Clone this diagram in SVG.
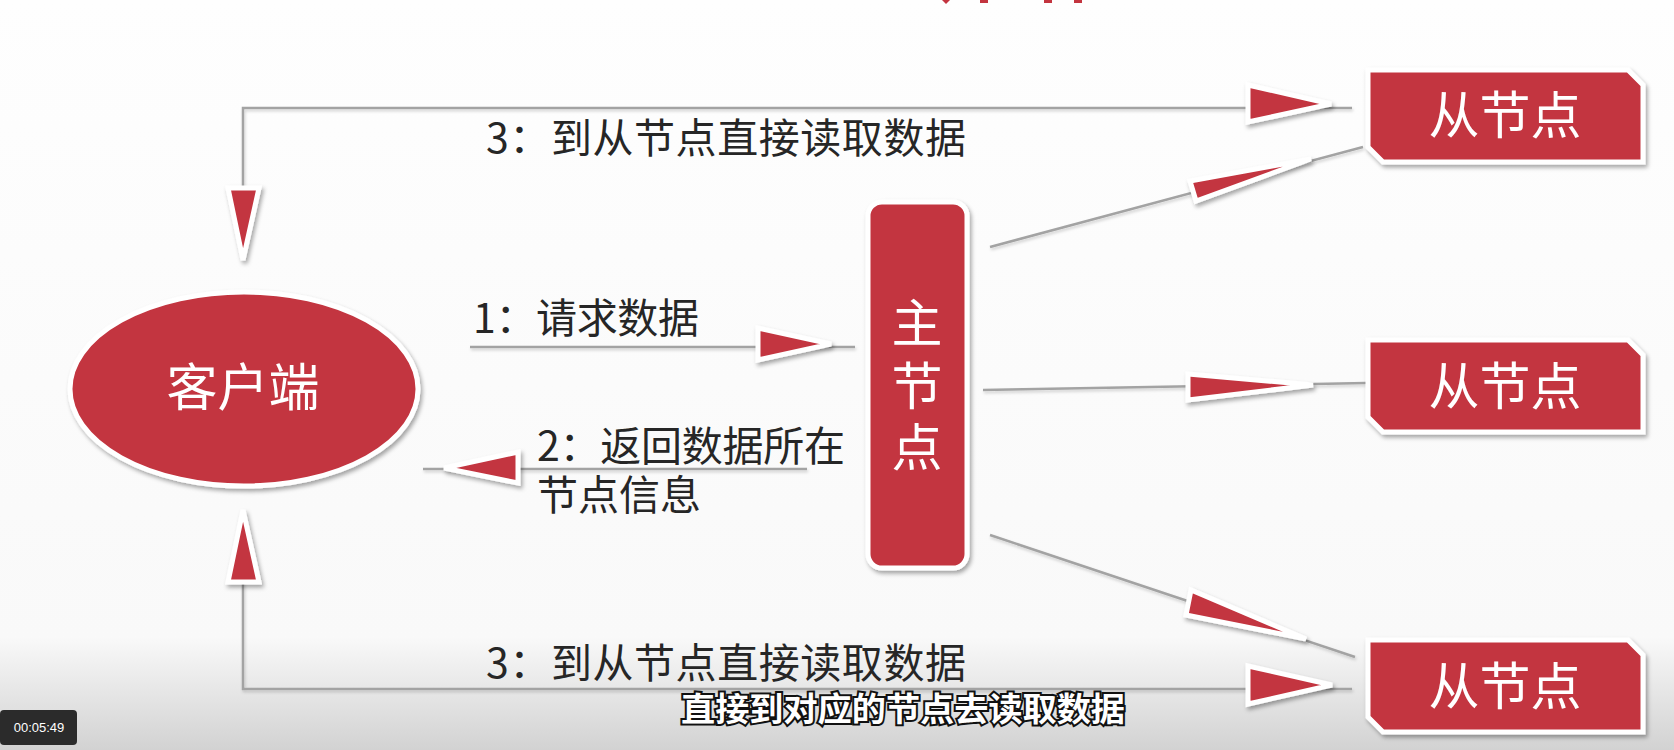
<svg xmlns="http://www.w3.org/2000/svg" width="1674" height="750" viewBox="0 0 1674 750">
  <defs>
    <linearGradient id="bg" x1="0" y1="0" x2="0" y2="1">
      <stop offset="0" stop-color="#fefefe"/>
      <stop offset="0.85" stop-color="#f9f9f9"/>
      <stop offset="1" stop-color="#d2d2d2"/>
    </linearGradient>
    <filter id="sh" x="-20%" y="-20%" width="140%" height="140%">
      <feDropShadow dx="2" dy="3" stdDeviation="2.2" flood-color="#000" flood-opacity="0.35"/>
    </filter>
    <filter id="lsh" x="-5%" y="-50%" width="110%" height="200%">
      <feDropShadow dx="1" dy="2" stdDeviation="1.5" flood-color="#000" flood-opacity="0.18"/>
    </filter>
    <style>
      .ln { stroke:#a3a3a3; stroke-width:2.5; fill:none; }
      .ah { fill:#C3343F; stroke:#ffffff; stroke-width:5; stroke-linejoin:miter; }
      .nd { fill:#C3343F; stroke:#ffffff; stroke-width:5; }
      .nt { fill:#ffffff; font-family:"Noto Sans CJK SC", sans-serif; font-size:51px; text-anchor:middle; }
      .lb { fill:#262626; font-family:"Noto Sans CJK SC", sans-serif; font-size:41px; }
      .sub { fill:#ffffff; stroke:#111111; stroke-width:4; paint-order:stroke; font-family:"Noto Sans CJK SC", sans-serif; font-weight:bold; font-size:33px; }
    </style>
  </defs>

  <rect x="0" y="0" width="1674" height="750" fill="url(#bg)"/>

  <!-- cut-off title fragments at top -->
  <g fill="#C3343F">
    <path d="M942,0 H950 L946,4 Z"/>
    <rect x="980" y="0" width="8" height="3"/>
    <rect x="1044" y="0" width="8" height="3"/>
    <rect x="1074" y="0" width="8" height="3"/>
  </g>

  <!-- connectors -->
  <g id="connectors">
    <g filter="url(#lsh)">
      <polyline class="ln" points="243,188 243,108 1352,108"/>
      <polyline class="ln" points="243,582 243,689 1352,689"/>
      <line class="ln" x1="470" y1="347" x2="855" y2="347"/>
      <line class="ln" x1="807" y1="469" x2="423" y2="469"/>
      <line class="ln" x1="990" y1="247" x2="1363" y2="147"/>
      <line class="ln" x1="983" y1="390" x2="1366" y2="383"/>
      <line class="ln" x1="990" y1="535" x2="1355" y2="657"/>
    </g>

    <g filter="url(#sh)">
      <polygon class="ah" points="1248,85 1248,122 1331,104"/>
      <polygon class="ah" points="228,188 259,188 243,260"/>
      <polygon class="ah" points="228,582 259,582 243,510"/>
      <polygon class="ah" points="1248,666 1248,704 1332,685"/>
      <polygon class="ah" points="758,328 758,360 831,344"/>
      <polygon class="ah" points="518,452 518,483 444,468"/>
      <polygon class="ah" points="1190,181 1196,201 1311,159"/>
      <polygon class="ah" points="1188,374 1188,400 1313,385"/>
      <polygon class="ah" points="1191,590 1186,615 1306,639"/>
    </g>

    <text class="lb" x="486" y="153" textLength="480" lengthAdjust="spacing">3：到从节点直接读取数据</text>
    <text class="lb" x="486" y="678" textLength="480" lengthAdjust="spacing">3：到从节点直接读取数据</text>
    <text class="lb" x="473" y="333" textLength="226" lengthAdjust="spacing">1：请求数据</text>
    <text class="lb"><tspan x="537" y="461" textLength="308" lengthAdjust="spacing">2：返回数据所在</tspan><tspan x="537" y="510">节点信息</tspan></text>
  </g>

  <!-- client -->
  <g id="client">
    <ellipse class="nd" cx="244" cy="389" rx="174" ry="97" filter="url(#sh)"/>
    <text class="nt" x="243" y="406">客户端</text>
  </g>

  <!-- master -->
  <g id="master">
    <rect class="nd" x="868" y="202" width="99" height="366" rx="14" ry="14" filter="url(#sh)"/>
    <text class="nt"><tspan x="917" y="342">主</tspan><tspan x="917" y="405">节</tspan><tspan x="917" y="466">点</tspan></text>
  </g>

  <!-- slaves -->
  <g id="slave1">
    <path class="nd" d="M1368,70 H1628 L1643,85 V162 H1383 L1368,147 Z" filter="url(#sh)"/>
    <text class="nt" x="1505" y="134">从节点</text>
  </g>
  <g id="slave2">
    <path class="nd" d="M1368,340 H1628 L1643,355 V432 H1383 L1368,417 Z" filter="url(#sh)"/>
    <text class="nt" x="1505" y="405">从节点</text>
  </g>
  <g id="slave3">
    <path class="nd" d="M1368,640 H1628 L1643,655 V732 H1383 L1368,717 Z" filter="url(#sh)"/>
    <text class="nt" x="1505" y="705">从节点</text>
  </g>

  <!-- video overlay -->
  <g id="subtitle">
    <text class="sub" x="681" y="721" textLength="444" lengthAdjust="spacingAndGlyphs">直接到对应的节点去读取数据</text>
  </g>
  <g id="timestamp">
    <rect x="0" y="710" width="77" height="35" rx="4" fill="#2b2b2b"/>
    <text x="39" y="732" fill="#ffffff" font-family="'Liberation Sans Narrow','Liberation Sans',sans-serif" font-size="13px" text-anchor="middle">00:05:49</text>
  </g>
</svg>
